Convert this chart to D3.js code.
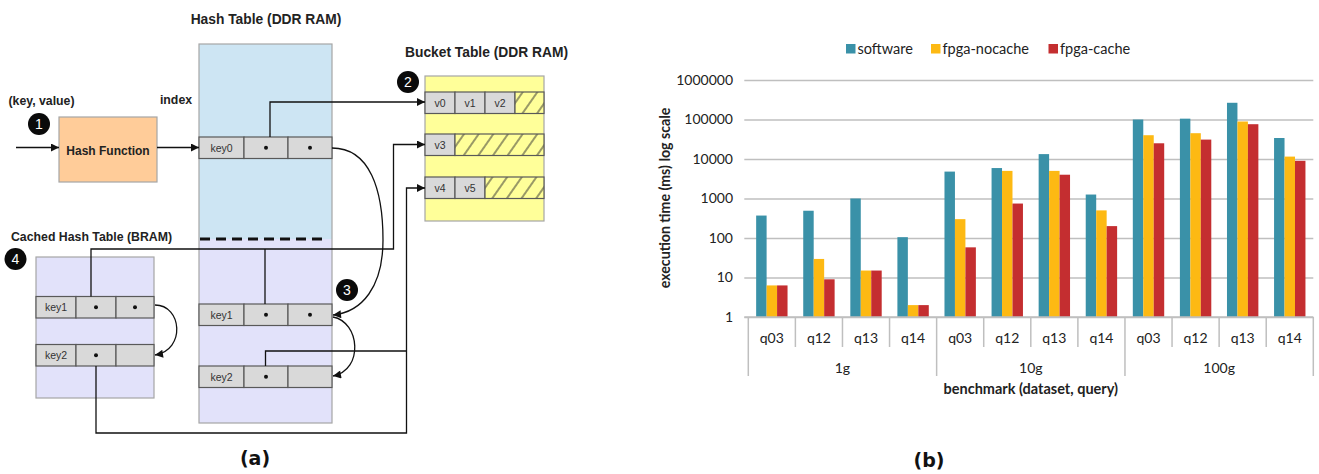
<!DOCTYPE html>
<html>
<head>
<meta charset="utf-8">
<script src="https://cdn.jsdelivr.net/npm/d3@7"></script>
<style>
  html, body { margin: 0; padding: 0; background: #fff; }
  svg { display: block; }
</style>
</head>
<body>
<svg id="fig" width="1319" height="474"></svg>
<script>
// ---------------- data (chart b) ----------------
const groups = ["1g", "10g", "100g"];
const queries = ["q03", "q12", "q13", "q14"];
const seriesNames = ["software", "fpga-nocache", "fpga-cache"];
const software    = [370, 490, 1000, 105, 4800, 5900, 13300, 1260, 100000, 105000, 265000, 34000];
const fpgaNocache = [6.3, 29.5, 15, 2, 300, 5000, 5000, 500, 40000, 45000, 89000, 11500];
const fpgaCache   = [6.3, 9, 15, 2, 58, 745, 4000, 200, 25000, 31000, 76000, 9000];
const yTicks = [1, 10, 100, 1000, 10000, 100000, 1000000];
const seriesColors = ["#3A91A8", "#FDB913", "#C42E30"];
const yTitle = "execution time (ms) log scale";
const xTitle = "benchmark (dataset, query)";

// ---------------- diagram (a) text ----------------
const hashRows = [["key0", "•", "•"], ["key1", "•", "•"], ["key2", "•", ""]];
const cachedRows = [["key1", "•", "•"], ["key2", "•", ""]];
const bucketRows = [["v0", "v1", "v2"], ["v3"], ["v4", "v5"]];

(function () {
const svg = d3.select("#fig");
svg.append("rect").attr("width", 1319).attr("height", 474).attr("fill", "#fff");

const defs = svg.append("defs");
defs.append("marker")
  .attr("id", "arr").attr("viewBox", "0 0 10 10")
  .attr("refX", 10).attr("refY", 5)
  .attr("markerUnits", "userSpaceOnUse")
  .attr("markerWidth", 10).attr("markerHeight", 8)
  .attr("orient", "auto")
  .append("path").attr("d", "M0,0 L10,5 L0,10 z").attr("fill", "#111");
const pat = defs.append("pattern")
  .attr("id", "hatch").attr("patternUnits", "userSpaceOnUse")
  .attr("width", 12).attr("height", 12)
  .attr("patternTransform", "rotate(35)");
pat.append("rect").attr("width", 12).attr("height", 12).attr("fill", "#FFFF99");
pat.append("line").attr("x1", 1).attr("y1", 0).attr("x2", 1).attr("y2", 12)
  .attr("stroke", "#333").attr("stroke-width", 1);

// ================= (a) diagram =================
const A = svg.append("g").attr("font-family", "'Liberation Sans', Arial, sans-serif");
const cellFill = "#D9D9D9", cellStroke = "#595959", boxStroke = "#A6A6A6";

function drawRow(g, x0, y0, widths, texts, h, hatchTo) {
  let xx = x0;
  widths.forEach((w, i) => {
    const t = texts[i];
    g.append("rect").attr("x", xx).attr("y", y0).attr("width", w).attr("height", h)
      .attr("fill", cellFill).attr("stroke", cellStroke).attr("stroke-width", 1.2);
    if (t === "•") {
      g.append("circle").attr("cx", xx + w / 2).attr("cy", y0 + h / 2).attr("r", 2).attr("fill", "#111");
    } else if (t) {
      g.append("text").attr("x", xx + w / 2).attr("y", y0 + h / 2 + 3.8)
        .attr("text-anchor", "middle").attr("font-size", 10.5).attr("fill", "#333").text(t);
    }
    xx += w;
  });
  if (hatchTo && hatchTo > xx) {
    g.append("rect").attr("x", xx).attr("y", y0).attr("width", hatchTo - xx).attr("height", h)
      .attr("fill", "url(#hatch)").attr("stroke", cellStroke).attr("stroke-width", 1.2);
  }
}

// Hash table (DDR)
A.append("rect").attr("x", 199).attr("y", 44).attr("width", 133).attr("height", 195).attr("fill", "#CDE5F3");
A.append("rect").attr("x", 199).attr("y", 239).attr("width", 133).attr("height", 184).attr("fill", "#E2E2FA");
A.append("rect").attr("x", 199).attr("y", 44).attr("width", 133).attr("height", 379)
  .attr("fill", "none").attr("stroke", boxStroke).attr("stroke-width", 1.2);
A.append("line").attr("x1", 200).attr("x2", 326).attr("y1", 239).attr("y2", 239)
  .attr("stroke", "#111").attr("stroke-width", 3).attr("stroke-dasharray", "10,6");

// Cached hash table (BRAM)
A.append("rect").attr("x", 36).attr("y", 257).attr("width", 118).attr("height", 141)
  .attr("fill", "#E2E2FA").attr("stroke", boxStroke).attr("stroke-width", 1.2);

// Bucket table
A.append("rect").attr("x", 425).attr("y", 76).attr("width", 119).attr("height", 145)
  .attr("fill", "#FFFF99").attr("stroke", boxStroke).attr("stroke-width", 1.2);

// Hash function box
A.append("rect").attr("x", 59).attr("y", 117).attr("width", 98).attr("height", 65)
  .attr("fill", "#FFCC99").attr("stroke", boxStroke).attr("stroke-width", 1.2);
A.append("text").attr("x", 108).attr("y", 154.5).attr("text-anchor", "middle")
  .attr("font-size", 12).attr("font-weight", "bold").attr("fill", "#222").text("Hash Function");

// rows
const hashY = [137, 304, 366];
hashRows.forEach((r, i) => drawRow(A, 199, hashY[i], [45, 44, 44], r, 21.5));
const cachedY = [296.5, 344.5];
cachedRows.forEach((r, i) => drawRow(A, 36, cachedY[i], [40, 40, 38], r, 21.5));
const bucketY = [92, 134, 177];
bucketRows.forEach((r, i) => drawRow(A, 425, bucketY[i], r.map(() => 30), r, 21.5, 544));

// connectors
const ln = (d, arrow) => {
  const p = A.append("path").attr("d", d).attr("fill", "none")
    .attr("stroke", "#111").attr("stroke-width", 1.3);
  if (arrow) p.attr("marker-end", "url(#arr)");
};
ln("M16,147.5 H59", true);
ln("M157,147.5 H199", true);
ln("M270,137 V102 H425", true);
ln("M332,148 C370,148 383,190 383,240 C383,287 362,312 333,315", true);
ln("M333,317 C360,322 364,370 333,376", true);
ln("M155,305 C182,305 186,350 155,355", true);
ln("M91,296.5 V249 H393.5 V144.5 H425", true);
ln("M265,249 V304");
ln("M96,366 V433 H406.5 V188 H425", true);
ln("M265.5,366 V351 H406.5");

// numbered circles
[[1, 39, 124], [2, 408, 82], [3, 347, 290], [4, 15.5, 259]].forEach(([n, cx, cy]) => {
  A.append("circle").attr("cx", cx).attr("cy", cy).attr("r", 11).attr("fill", "#0a0a0a");
  A.append("text").attr("x", cx).attr("y", cy + 5).attr("text-anchor", "middle")
    .attr("font-size", 14).attr("fill", "#fff").text(n);
});

// labels
const lab = (lx, ly, s, fs) => A.append("text").attr("x", lx).attr("y", ly).attr("text-anchor", "middle")
  .attr("font-size", fs).attr("font-weight", "bold").attr("fill", "#222").text(s);
lab(266, 23.5, "Hash Table (DDR RAM)", 13.8);
lab(486.5, 56.5, "Bucket Table (DDR RAM)", 13.8);
lab(41.5, 104.5, "(key, value)", 12.3);
lab(176, 103.5, "index", 12.3);
lab(91.5, 240.5, "Cached Hash Table (BRAM)", 12.3);

// panel labels
svg.append("text").attr("x", 255).attr("y", 465).attr("text-anchor", "middle")
  .attr("font-family", "'DejaVu Sans', sans-serif").attr("font-weight", "bold")
  .attr("font-size", 19).attr("fill", "#111").text("(a)");
svg.append("text").attr("x", 929).attr("y", 467).attr("text-anchor", "middle")
  .attr("font-family", "'DejaVu Sans', sans-serif").attr("font-weight", "bold")
  .attr("font-size", 19).attr("fill", "#111").text("(b)");

// ================= (b) chart =================
const B = svg.append("g").attr("font-family", "Lato, 'Open Sans', sans-serif");
const pLeft = 748.3, pRight = 1313.3, pTop = 80, pBase = 317;
const cats = d3.range(groups.length * queries.length);
const x = d3.scaleBand().domain(cats).range([pLeft, pRight]).padding(0);
const xs = d3.scaleBand().domain(seriesNames).range([0, x.bandwidth()]).paddingInner(0).paddingOuter(0.75);
const y = d3.scaleLog().domain([1, 1e6]).range([pBase, pTop]);
const color = d3.scaleOrdinal().domain(seriesNames).range(seriesColors);
const seriesValues = [software, fpgaNocache, fpgaCache];

// gridlines + y labels
const yAxis = d3.axisLeft(y).tickValues(yTicks).tickFormat(d3.format("d"))
  .tickSize(-(pRight - 744.3)).tickPadding(11.3);
const ya = B.append("g").attr("transform", "translate(744.3,0)").call(yAxis);
ya.select(".domain").remove();
ya.selectAll(".tick line").attr("stroke", "#BFBFBF").attr("stroke-width", 1.5);
ya.selectAll(".tick text").attr("font-size", 14).attr("fill", "#222")
  .attr("font-family", "Lato, 'Open Sans', sans-serif");

// bars
seriesNames.forEach((s, si) => {
  B.append("g").selectAll("rect").data(seriesValues[si]).join("rect")
    .attr("x", (d, i) => x(i) + xs(s))
    .attr("width", xs.bandwidth())
    .attr("y", d => y(d))
    .attr("height", d => y(1) - y(d))
    .attr("fill", color(s));
});

// category dividers
const bounds = d3.range(cats.length + 1);
const bx = i => i < cats.length ? x(i) : x(cats.length - 1) + x.bandwidth();
B.append("g").selectAll("line").data(bounds).join("line")
  .attr("x1", bx).attr("x2", bx)
  .attr("y1", pBase)
  .attr("y2", i => i % queries.length === 0 ? 376 : 347)
  .attr("stroke", "#BFBFBF").attr("stroke-width", 1.5);
B.append("line").attr("x1", 744.3).attr("x2", pRight).attr("y1", pBase).attr("y2", pBase)
  .attr("stroke", "#BFBFBF").attr("stroke-width", 1.5);

// query labels
B.append("g").selectAll("text").data(cats).join("text")
  .attr("x", i => x(i) + x.bandwidth() / 2).attr("y", 343)
  .attr("text-anchor", "middle").attr("font-size", 14).attr("fill", "#222")
  .text(i => queries[i % queries.length]);
// group labels
B.append("g").selectAll("text").data(groups).join("text")
  .attr("x", (g, gi) => x(gi * queries.length) + x.bandwidth() * queries.length / 2).attr("y", 373)
  .attr("text-anchor", "middle").attr("font-size", 14).attr("fill", "#222")
  .text(g => g);
// axis titles
B.append("text").attr("x", (pLeft + pRight) / 2).attr("y", 394).attr("text-anchor", "middle")
  .attr("font-size", 14.5).attr("font-weight", "bold").attr("fill", "#222").text(xTitle);
B.append("text").attr("transform", "translate(670,198) rotate(-90)").attr("text-anchor", "middle")
  .attr("font-size", 14.2).attr("font-weight", "bold").attr("fill", "#222").text(yTitle);

// legend
const legX = [846, 931, 1048.5];
const leg = B.append("g").selectAll("g").data(seriesNames).join("g")
  .attr("transform", (d, i) => `translate(${legX[i]},44)`);
leg.append("rect").attr("width", 9.5).attr("height", 9.5).attr("fill", d => color(d));
leg.append("text").attr("x", 11.5).attr("y", 9.5).attr("font-size", 14.5).attr("fill", "#222").text(d => d);
})();
</script>
</body>
</html>
